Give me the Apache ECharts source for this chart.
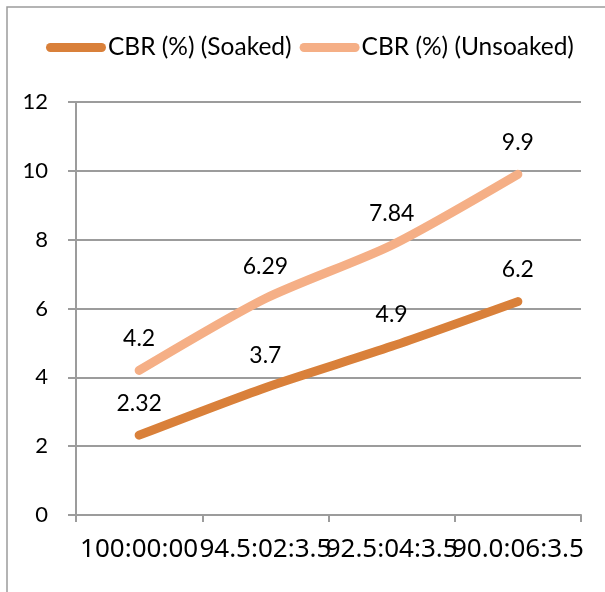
<!DOCTYPE html>
<html>
<head>
<meta charset="utf-8">
<script src="https://cdn.jsdelivr.net/npm/echarts@6/dist/echarts.min.js"></script>
<style>
  html, body { margin: 0; padding: 0; background: #fff; }
  #chart { width: 605px; height: 592px; }
</style>
</head>
<body>
<div id="chart"></div>
<script>
// Mix proportions (categories) and CBR values
const categories = ['100:00:00', '94.5:02:3.5', '92.5:04:3.5', '90.0:06:3.5'];
const soakedCBR = [2.32, 3.7, 4.9, 6.2];
const unsoakedCBR = [4.2, 6.29, 7.84, 9.9];
const yTicks = { min: 0, max: 12, interval: 2 };

const SOAKED_COLOR = '#D9803A';
const UNSOAKED_COLOR = '#F5AF86';
const GRID_COLOR = '#9C9C9C';
const BASE_FONT = 'Lato, "Noto Sans", sans-serif';

// Rounded bar used as the legend glyph
const legendIcon = 'path://M4.5,0 H55.5 A4.5,4.5 0 0 1 55.5,9 H4.5 A4.5,4.5 0 0 1 4.5,0 Z';

function lineSeries(name, values, color) {
  return {
    name: name,
    type: 'line',
    data: values,
    smooth: 0.25,
    symbol: 'circle',
    symbolSize: 1,
    itemStyle: { color: color },
    lineStyle: { color: color, width: 9, cap: 'round', join: 'round' },
    label: {
      show: true,
      position: 'top',
      distance: 20,
      color: '#000',
      fontFamily: BASE_FONT,
      fontSize: 23
    },
    emphasis: { disabled: true },
    animation: false
  };
}

const chart = echarts.init(document.getElementById('chart'), null, { renderer: 'canvas' });
chart.setOption({
  backgroundColor: '#fff',
  animation: false,
  graphic: [{
    type: 'rect',
    shape: { x: 7, y: 7, width: 800, height: 800 },
    style: { fill: 'none', stroke: GRID_COLOR, lineWidth: 1.5 },
    silent: true
  }],
  legend: {
    top: 30,
    left: 41,
    itemWidth: 60,
    itemHeight: 9,
    itemGap: 8,
    icon: legendIcon,
    textStyle: { fontFamily: BASE_FONT, fontSize: 24.5, color: '#000', padding: [0, 0, 0, -3] },
    data: [
      { name: 'CBR (%) (Soaked)', itemStyle: { color: SOAKED_COLOR } },
      { name: 'CBR (%) (Unsoaked)', itemStyle: { color: UNSOAKED_COLOR } }
    ]
  },
  grid: { left: 76, right: 24, top: 102, bottom: 77, containLabel: false },
  xAxis: {
    type: 'category',
    data: categories,
    boundaryGap: true,
    axisLine: { lineStyle: { color: GRID_COLOR, width: 2 } },
    axisTick: { show: true, length: 7, alignWithLabel: false, lineStyle: { color: GRID_COLOR, width: 2 } },
    axisLabel: {
      interval: 0,
      hideOverlap: false,
      margin: 22,
      color: '#000',
      fontFamily: '"Noto Sans", sans-serif',
      fontSize: 26
    },
    splitLine: { show: false }
  },
  yAxis: {
    type: 'value',
    min: yTicks.min,
    max: yTicks.max,
    interval: yTicks.interval,
    axisLine: { show: true, lineStyle: { color: GRID_COLOR, width: 2 } },
    axisTick: { show: true, length: 8, lineStyle: { color: GRID_COLOR, width: 2 } },
    axisLabel: { margin: 28, color: '#000', fontFamily: BASE_FONT, fontSize: 22 },
    splitLine: { show: true, lineStyle: { color: GRID_COLOR, width: 2 } }
  },
  series: [
    lineSeries('CBR (%) (Soaked)', soakedCBR, SOAKED_COLOR),
    lineSeries('CBR (%) (Unsoaked)', unsoakedCBR, UNSOAKED_COLOR)
  ]
});
</script>
</body>
</html>
